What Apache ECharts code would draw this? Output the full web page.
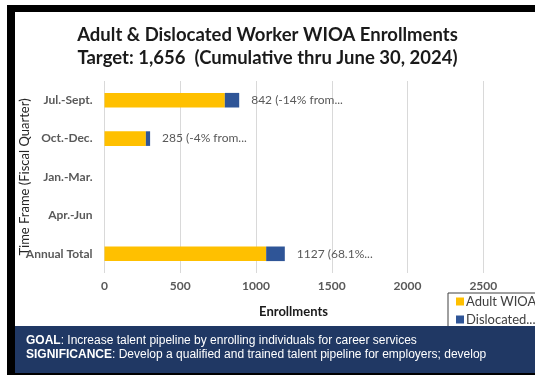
<!DOCTYPE html>
<html>
<head>
<meta charset="utf-8">
<script src="https://cdn.jsdelivr.net/npm/echarts@6/dist/echarts.min.js"></script>
<style>html,body{margin:0;padding:0;background:#fff}#c{width:535px;height:375px}</style>
</head>
<body>
<div id="c"></div>
<script>
var categories = ['Jul.-Sept.', 'Oct.-Dec.', 'Jan.-Mar.', 'Apr.-Jun', 'Annual Total'];
var adultValues = [794, 273, null, null, 1067];
var dislocatedValues = [95, 28, null, null, 123];
var barLabels = ['842 (-14% from...', '285 (-4% from...', '', '', '1127 (68.1%...'];
var xTicks = [0, 500, 1000, 1500, 2000, 2500];

var chart = echarts.init(document.getElementById('c'));
var F = 'Lato, "Open Sans", sans-serif';
var A = '"Liberation Sans", Arial, sans-serif';
chart.setOption({
  animation: false,
  textStyle: { fontFamily: F },
  title: {
    text: 'Adult & Dislocated Worker WIOA Enrollments\nTarget: 1,656  (Cumulative thru June 30, 2024)',
    left: 'center', top: 19,
    textStyle: { fontFamily: F, fontSize: 18.5, fontWeight: 'bold', color: '#1a1a1a', lineHeight: 23 }
  },
  grid: { left: 104.5, right: 51.7, top: 81, bottom: 102, containLabel: false, outerBoundsMode: 'none' },
  xAxis: {
    type: 'value', min: xTicks[0], max: xTicks[xTicks.length - 1], interval: 500,
    axisLine: { show: false }, axisTick: { show: false },
    splitLine: { lineStyle: { color: '#D9D9D9', width: 1 } },
    axisLabel: { fontFamily: F, fontSize: 12, fontWeight: 'bold', color: '#595959', margin: 7,
      formatter: function (v) { return String(v); } }
  },
  yAxis: {
    type: 'category', data: categories, inverse: true,
    axisLine: { show: false }, axisTick: { show: false },
    axisLabel: { fontFamily: F, fontSize: 12, fontWeight: 'bold', color: '#595959', margin: 12 },
    name: 'Time Frame (Fiscal Quarter)', nameLocation: 'middle', nameRotate: 90, nameGap: 73,
    nameMoveOverlap: false,
    nameTextStyle: { fontFamily: F, fontSize: 13, color: '#262626' }
  },
  legend: {
    orient: 'vertical', left: 448, top: 293, itemWidth: 8, itemHeight: 8, itemGap: 5,
    borderColor: '#404040', borderWidth: 1, padding: [2, 60, 3, 8], backgroundColor: '#fff',
    icon: 'rect',
    textStyle: { fontFamily: F, fontSize: 13, color: '#404040', padding: [0, 0, 0, -3] },
    formatter: function (n) { return n === 'Dislocated Worker WIOA' ? 'Dislocated...' : n; },
    data: ['Adult WIOA', 'Dislocated Worker WIOA']
  },
  series: [
    { name: 'Adult WIOA', type: 'bar', stack: 't', data: adultValues, barWidth: '38%',
      itemStyle: { color: '#FFC000' } },
    { name: 'Dislocated Worker WIOA', type: 'bar', stack: 't', data: dislocatedValues,
      itemStyle: { color: '#2F5597' },
      label: { show: true, position: 'right', distance: 12, fontFamily: F, fontSize: 12, color: '#595959',
        formatter: function (p) { return barLabels[p.dataIndex]; } } }
  ],
  graphic: [
    { type: 'text', x: 293.5, y: 305, z: 50,
      style: { text: 'Enrollments', fontFamily: F, fontSize: 13, fontWeight: 'bold', fill: '#1a1a1a', textAlign: 'center' } },
    { type: 'rect', shape: { x: 7, y: 5, width: 528, height: 7 }, style: { fill: '#000' }, z: 100 },
    { type: 'rect', shape: { x: 7, y: 5, width: 8, height: 370 }, style: { fill: '#000' }, z: 100 },
    { type: 'rect', shape: { x: 15, y: 326, width: 520, height: 47 }, style: { fill: '#203864' }, z: 100 },
    { type: 'rect', shape: { x: 7, y: 373, width: 528, height: 2 }, style: { fill: '#000' }, z: 100 },
    { type: 'text', x: 26, y: 335, z: 101,
      style: { text: '{b|GOAL}: Increase talent pipeline by enrolling individuals for career services',
        fontFamily: A, fontSize: 12, fill: '#fff',
        rich: { b: { fontWeight: 'bold', fontFamily: A, fontSize: 12, fill: '#fff' } } } },
    { type: 'text', x: 26, y: 348.5, z: 101,
      style: { text: '{b|SIGNIFICANCE}: Develop a qualified and trained talent pipeline for employers; develop',
        fontFamily: A, fontSize: 12, fill: '#fff',
        rich: { b: { fontWeight: 'bold', fontFamily: A, fontSize: 12, fill: '#fff' } } } }
  ]
});
</script>
</body>
</html>
